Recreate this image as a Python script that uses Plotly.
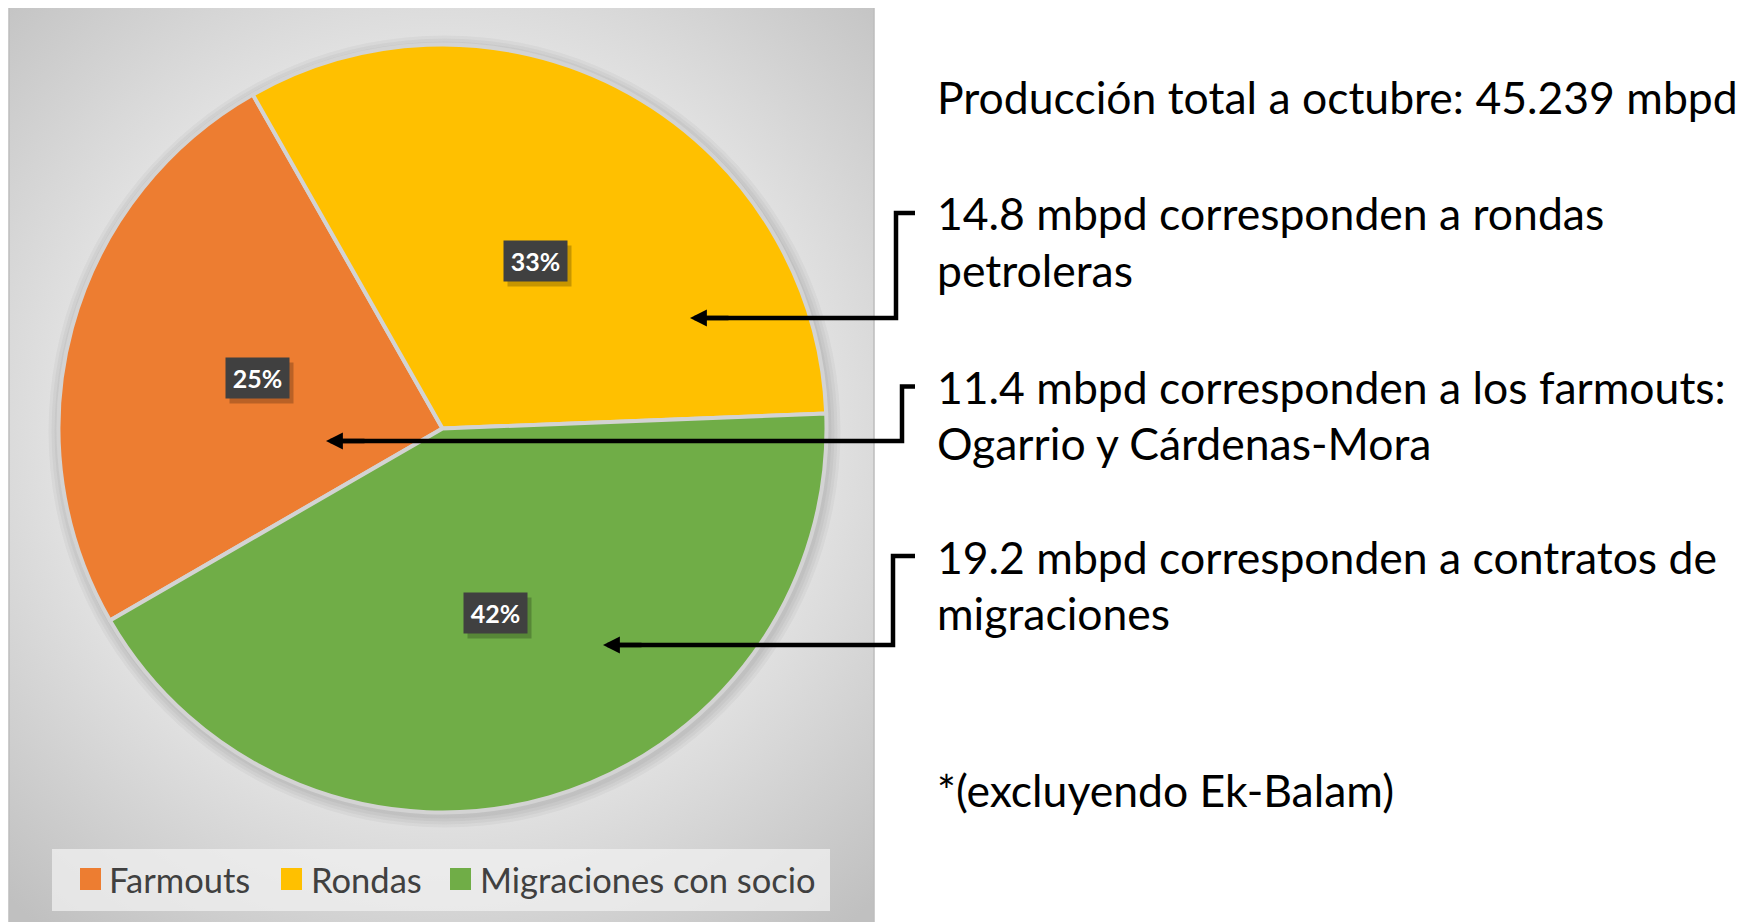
import base64
import math
import plotly.graph_objects as go

# ---------------- data ----------------
categories = ["Farmouts", "Rondas", "Migraciones con socio"]
values = [11.4, 14.8, 19.2]          # mbpd
colors = ["#ED7D31", "#FFC000", "#70AD47"]

total_text = "Producción total a octubre: 45.239 mbpd"
note_text = "*(excluyendo Ek-Balam)"
callout_order = ["Rondas", "Farmouts", "Migraciones con socio"]
callout_line1 = {
    "Rondas": "corresponden a rondas",
    "Farmouts": "corresponden a los farmouts:",
    "Migraciones con socio": "corresponden a contratos de",
}
callout_line2 = {
    "Rondas": "petroleras",
    "Farmouts": "Ogarrio y Cárdenas-Mora",
    "Migraciones con socio": "migraciones",
}

# ---------------- geometry (window pixels) ----------------
OFF = 8                      # page body margin
W, H = 1750 - OFF, 922 - OFF  # figure size
CX, CY, R = 442.5, 428.5, 384
ROT = 240
FONT = "Lato"
TXT_SIZE = 44.5
LINE_GAP = 56


def px(x):
    return (x - OFF) / W


def py(y):
    return 1 - (y - OFF) / H


# callout layout: first-line middle y, elbow x, arrow y, arrow tip x
callout_geo = {
    "Rondas": (213, 896, 318, 690),
    "Farmouts": (386.5, 902, 441, 326),
    "Migraciones con socio": (556, 893, 645, 603),
}
STUB_X = 915
TEXT_X = 935

fig = go.Figure()

fig.add_trace(go.Pie(
    labels=categories,
    values=values,
    sort=False,
    direction="clockwise",
    rotation=ROT,
    marker=dict(colors=colors, line=dict(color="#d3d3d3", width=4)),
    textinfo="none",
    hoverinfo="label+value+percent",
    showlegend=False,
    domain=dict(x=[px(CX - R), px(CX + R)], y=[py(CY + R), py(CY - R)]),
))

# ---------------- background panel (radial gradient) ----------------
PX0, PY0, PX1, PY1 = 9, 6, 874, 922
pw, ph = PX1 - PX0, PY1 - PY0
svg = (
    f"<svg xmlns='http://www.w3.org/2000/svg' width='{pw}' height='{ph}' viewBox='0 0 {pw} {ph}'>"
    f"<defs><radialGradient id='g' cx='{CX - PX0}' cy='{CY - PY0}' r='640' gradientUnits='userSpaceOnUse'>"
    "<stop offset='0' stop-color='#ececec'/>"
    "<stop offset='0.6' stop-color='#e1e1e1'/>"
    "<stop offset='1' stop-color='#c0c0c0'/>"
    "</radialGradient></defs>"
    f"<rect width='{pw}' height='{ph}' fill='url(#g)'/></svg>"
)
src = "data:image/svg+xml;base64," + base64.b64encode(svg.encode()).decode()
fig.add_layout_image(dict(
    source=src, xref="paper", yref="paper",
    x=px(PX0), y=py(PY0), sizex=pw / W, sizey=ph / H,
    xanchor="left", yanchor="top", sizing="stretch", layer="below",
))

shapes = []
shapes.append(dict(type="rect", xref="paper", yref="paper",
                   x0=px(PX0), x1=px(PX1), y0=py(PY1 + 2), y1=py(PY0),
                   line=dict(color="#bdbdbd", width=1.5), fillcolor="rgba(0,0,0,0)",
                   layer="below"))
# soft shadow around the pie
for k in (12, 9, 6, 3):
    shapes.append(dict(type="circle", xref="paper", yref="paper",
                       x0=px(CX - R - k + 2), x1=px(CX + R + k + 2),
                       y0=py(CY + R + k + 3), y1=py(CY - R - k + 3),
                       line=dict(width=0), fillcolor="rgba(0,0,0,0.035)",
                       layer="below"))

# ---------------- legend (manual) ----------------
shapes.append(dict(type="rect", xref="paper", yref="paper",
                   x0=px(52), x1=px(830), y0=py(911), y1=py(849),
                   line=dict(width=0), fillcolor="rgba(240,240,240,0.75)", layer="below"))
legend_sq_x = [80, 281, 450]
legend_txt_x = [107, 309, 478]
annotations = []
for cat, col, sx, tx in zip(categories, colors, legend_sq_x, legend_txt_x):
    shapes.append(dict(type="rect", xref="paper", yref="paper",
                       x0=px(sx), x1=px(sx + 21), y0=py(890), y1=py(868),
                       line=dict(width=0), fillcolor=col, layer="above"))
    annotations.append(dict(xref="paper", yref="paper", x=px(tx), y=py(879),
                            xanchor="left", yanchor="middle", showarrow=False,
                            text=cat, font=dict(family=FONT, size=34.5, color="#404040")))

# ---------------- percentage labels ----------------
tot = sum(values)
ang = ROT
for v in values:
    span = 360 * v / tot
    mid = math.radians(ang + span / 2)
    lx = CX + 0.5 * R * math.sin(mid)
    ly = CY - 0.5 * R * math.cos(mid)
    ang += span
    common = dict(xref="paper", yref="paper", x=px(lx), y=py(ly),
                  xanchor="center", yanchor="middle", showarrow=False,
                  width=63, height=40, borderpad=0)
    annotations.append(dict(common, text=" ", bgcolor="rgba(0,0,0,0.22)",
                            xshift=4, yshift=-5))
    annotations.append(dict(common, text=f"<b>{round(100 * v / tot)}%</b>",
                            bgcolor="#404040",
                            font=dict(family=FONT, size=25, color="white")))

# ---------------- callouts ----------------
val_by_cat = dict(zip(categories, values))
for cat in callout_order:
    ty, ex, ay, tip = callout_geo[cat]
    path = (f"M{px(STUB_X)},{py(ty)} L{px(ex)},{py(ty)} "
            f"L{px(ex)},{py(ay)} L{px(tip + 14)},{py(ay)}")
    shapes.append(dict(type="path", xref="paper", yref="paper", path=path,
                       line=dict(color="black", width=4.5), layer="above"))
    annotations.append(dict(xref="paper", yref="paper", x=px(tip), y=py(ay),
                            ax=40, ay=0, text="", showarrow=True,
                            arrowhead=2, arrowsize=0.75, arrowwidth=4.5,
                            arrowcolor="black", standoff=0))
    for i, line in enumerate([f"{val_by_cat[cat]} mbpd {callout_line1[cat]}",
                              callout_line2[cat]]):
        annotations.append(dict(xref="paper", yref="paper", x=px(TEXT_X),
                                y=py(ty + i * LINE_GAP),
                                xanchor="left", yanchor="middle", align="left",
                                showarrow=False, text=line,
                                font=dict(family=FONT, size=TXT_SIZE, color="black")))

annotations.append(dict(xref="paper", yref="paper", x=px(TEXT_X), y=py(97),
                        xanchor="left", yanchor="middle", showarrow=False,
                        text=total_text, font=dict(family=FONT, size=TXT_SIZE, color="black")))
annotations.append(dict(xref="paper", yref="paper", x=px(TEXT_X), y=py(789),
                        xanchor="left", yanchor="middle", showarrow=False,
                        text=note_text, font=dict(family=FONT, size=TXT_SIZE, color="black")))

fig.update_layout(
    width=W, height=H,
    margin=dict(l=0, r=0, t=0, b=0),
    paper_bgcolor="white",
    plot_bgcolor="white",
    shapes=shapes,
    annotations=annotations,
    showlegend=False,
)

fig.write_html("out.html")
